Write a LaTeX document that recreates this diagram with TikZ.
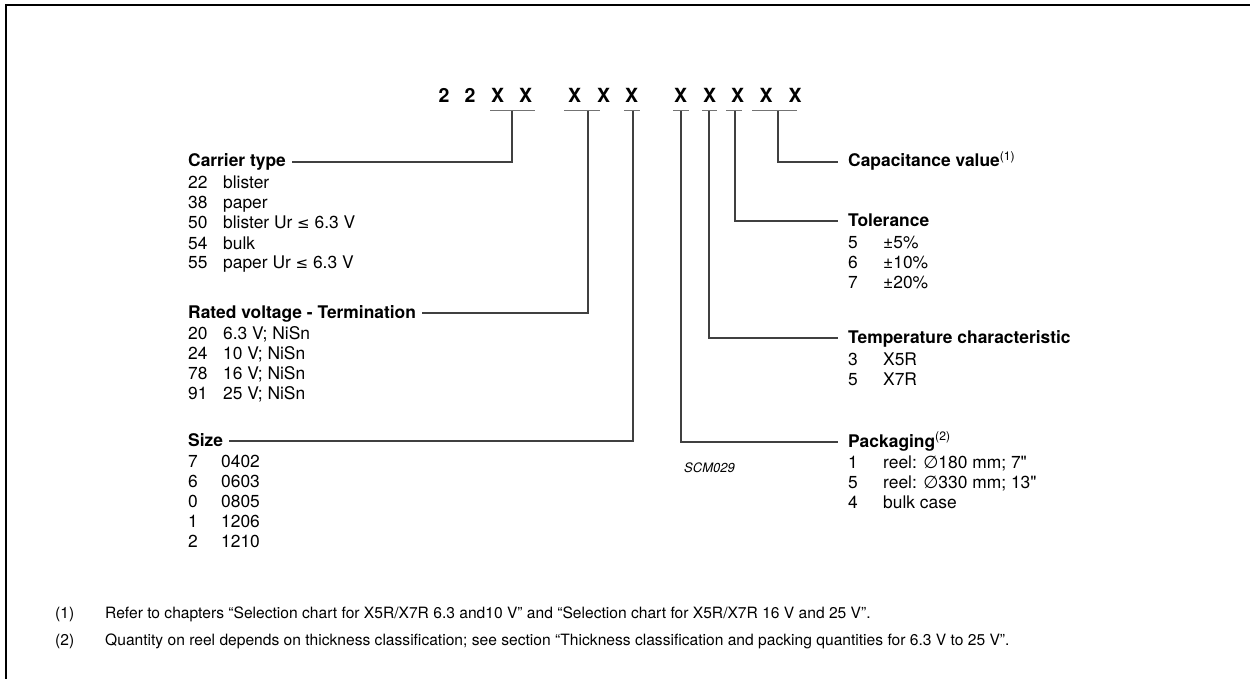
\documentclass[tikz,border=0pt]{standalone}
\usepackage{fontspec}
\setmainfont{TeX Gyre Heros}
\newfontfamily\symf{DejaVu Sans}
\newfontfamily\rawfont[Ligatures=TeXOff]{TeX Gyre Heros}
\newcommand{\lesym}{{\symf\fontsize{15}{20}\selectfont ≤}}
\newcommand{\diasym}{{\symf ∅}}
\newcommand{\inchmark}{{\rawfont"}}
\tikzset{
  lab/.style={font=\fontsize{17.4}{20}\selectfont\bfseries, inner ysep=0pt, text height=10pt, text depth=0pt},
  labL/.style={lab, anchor=west, inner xsep=6pt},
  labR/.style={lab, anchor=west, inner xsep=10pt},
  item/.style={font=\fontsize{17.4}{20}\selectfont, anchor=base west, inner sep=0pt},
  code/.style={font=\fontsize{19.5}{22}\selectfont\bfseries, anchor=base, inner sep=0pt},
  uline/.style={draw=black!55, line width=1.6pt},
  conn/.style={draw=black!75, line width=1.1pt},
  frame/.style={draw=black, line width=1.8pt},
  note/.style={font=\fontsize{15.6}{18}\selectfont, anchor=base west, inner sep=0pt},
  ident/.style={font=\fontsize{13}{15}\selectfont\itshape, anchor=base west, inner sep=0pt}
}
\begin{document}
\begin{tikzpicture}[x=1pt,y=-1pt]
\useasboundingbox (0,0) rectangle (1250,679);
% frame
\coordinate (fbl) at (6,679);
\coordinate (ftl) at (6,5);
\coordinate (ftr) at (1250,5);
\draw[frame] (fbl) -- (ftl) -- (ftr);

% code characters
\foreach \ch/\xx [count=\i] in {2/444,2/470,X/497.5,X/525.5,X/574.5,X/603.5,X/631.5,X/680.5,X/709.5,X/737.5,X/766,X/795}
  \node[code] (ch\i) at (\xx,103) {\ch};

% underlines and stems
\foreach \a/\b/\s [count=\i] in {490/535/512, 564/600/588, 624/640/633, 673/689/681, 702/717/709, 726/742/735, 752/797/778}{
  \coordinate (ua\i) at (\a,110.7);
  \coordinate (ub\i) at (\b,110.7);
  \coordinate (s\i) at (\s,110.7);
  \draw[uline] (ua\i) -- (ub\i);
}

% left labels
\node[labL] (ct) at (182,162) {Carrier type};
\node[labL] (rv) at (182,313) {Rated voltage - Termination};
\node[labL] (sz) at (182,441) {Size};
% right labels
\node[labR] (cv) at (838,162) {Capacitance value\textsuperscript{\normalfont(1)}};
\node[labR] (tl) at (838,221) {Tolerance};
\node[labR] (tc) at (838,338) {Temperature characteristic};
\node[labR] (pk) at (838,442) {Packaging\textsuperscript{\normalfont(2)}};

% connectors
\draw[conn] (s1) |- (ct.east);
\draw[conn] (s2) |- (rv.east);
\draw[conn] (s3) |- (sz.east);
\draw[conn] (s4) |- (pk.west);
\draw[conn] (s5) |- (tc.west);
\draw[conn] (s6) |- (tl.west);
\draw[conn] (s7) |- (cv.west);

% carrier type items
\foreach \c/\t [count=\i] in {22/blister, 38/paper, 50/{blister Ur \lesym\ 6.3 V}, 54/bulk, 55/{paper Ur \lesym\ 6.3 V}}{
  \node[item] (ctc\i) at (188,{189+20*(\i-1)}) {\c};
  \node[item] (ctv\i) at (223,{189+20*(\i-1)}) {\t};
}
% rated voltage items
\foreach \c/\t [count=\i] in {20/{6.3 V; NiSn}, 24/{10 V; NiSn}, 78/{16 V; NiSn}, 91/{25 V; NiSn}}{
  \node[item] (rvc\i) at (188,{339+20*(\i-1)}) {\c};
  \node[item] (rvv\i) at (223,{339+20*(\i-1)}) {\t};
}
% size items
\foreach \c/\t [count=\i] in {7/0402, 6/0603, 0/0805, 1/1206, 2/1210}{
  \node[item] (szc\i) at (188,{467+20*(\i-1)}) {\c};
  \node[item] (szv\i) at (221,{467+20*(\i-1)}) {\t};
}
% tolerance items
\foreach \c/\t [count=\i] in {5/{±5\%}, 6/{±10\%}, 7/{±20\%}}{
  \node[item] (tlc\i) at (848,{248+20*(\i-1)}) {\c};
  \node[item] (tlv\i) at (883,{248+20*(\i-1)}) {\t};
}
% temperature items
\foreach \c/\t [count=\i] in {3/X5R, 5/X7R}{
  \node[item] (tcc\i) at (848,{365+20*(\i-1)}) {\c};
  \node[item] (tcv\i) at (883,{365+20*(\i-1)}) {\t};
}
% packaging items
\foreach \c/\t [count=\i] in {1/{reel: \diasym180 mm; 7\inchmark}, 5/{reel: \diasym330 mm; 13\inchmark}, 4/{bulk case}}{
  \node[item] (pkc\i) at (848,{468+20*(\i-1)}) {\c};
  \node[item] (pkv\i) at (883,{468+20*(\i-1)}) {\t};
}

\node[ident] (scm) at (684,472) {SCM029};

% footnotes
\node[note] (n1) at (55,618) {(1)};
\node[note] (n1t) at (105,618) {Refer to chapters “Selection chart for X5R/X7R 6.3 and10 V” and “Selection chart for X5R/X7R 16 V and 25 V”.};
\node[note] (n2) at (55,645) {(2)};
\node[note] (n2t) at (105,645) {Quantity on reel depends on thickness classification; see section “Thickness classification and packing quantities for 6.3 V to 25 V”.};
\end{tikzpicture}
\end{document}
